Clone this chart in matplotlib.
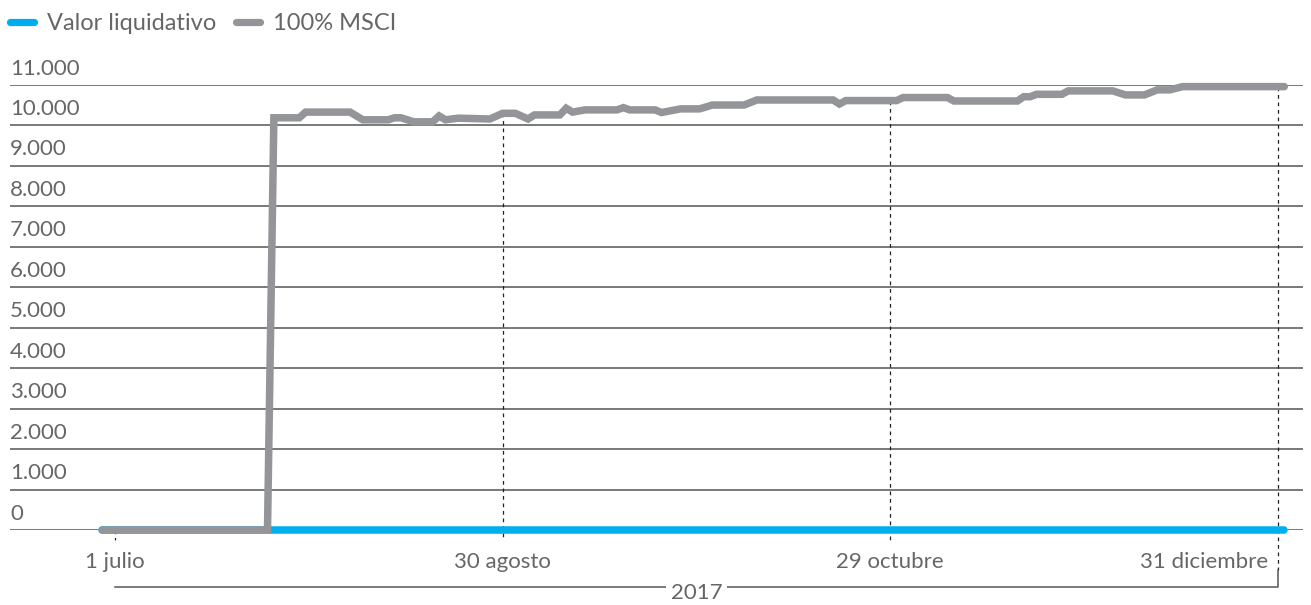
import numpy as np
import matplotlib
matplotlib.use("Agg")
import matplotlib.pyplot as plt
import matplotlib.dates as mdates
from matplotlib.lines import Line2D
import datetime as dt

# ---- data -------------------------------------------------------------
msci_dates = [
    "2017-06-29", "2017-07-25", "2017-07-26", "2017-07-30", "2017-07-31",
    "2017-08-07", "2017-08-09", "2017-08-13", "2017-08-14", "2017-08-15",
    "2017-08-17", "2017-08-20", "2017-08-21", "2017-08-22", "2017-08-24",
    "2017-08-29", "2017-08-31", "2017-09-02", "2017-09-04", "2017-09-05",
    "2017-09-09", "2017-09-10", "2017-09-11", "2017-09-13", "2017-09-18",
    "2017-09-19", "2017-09-20", "2017-09-24", "2017-09-25", "2017-09-28",
    "2017-10-01", "2017-10-03", "2017-10-08", "2017-10-10", "2017-10-22",
    "2017-10-23", "2017-10-24", "2017-11-01", "2017-11-02", "2017-11-09",
    "2017-11-10", "2017-11-20", "2017-11-21", "2017-11-22", "2017-11-23",
    "2017-11-27", "2017-11-28", "2017-12-05", "2017-12-07", "2017-12-10",
    "2017-12-12", "2017-12-14", "2017-12-16", "2018-01-01",
]
msci_values = [
    0, 0, 10190, 10190, 10330,
    10330, 10140, 10140, 10190, 10190,
    10090, 10090, 10235, 10140, 10180,
    10160, 10300, 10300, 10160, 10260,
    10260, 10425, 10330, 10385, 10385,
    10440, 10385, 10385, 10320, 10410,
    10410, 10505, 10505, 10630, 10630,
    10530, 10615, 10615, 10690, 10690,
    10605, 10605, 10710, 10710, 10770,
    10770, 10855, 10855, 10755, 10755,
    10880, 10880, 10960, 10960,
]

nav_dates = ["2017-06-29", "2018-01-01"]
nav_values = [0, 0]

tick_dates = ["2017-07-01", "2017-08-30", "2017-10-29", "2017-12-31"]
tick_labels = ["1 julio", "30 agosto", "29 octubre", "31 diciembre"]
year_label = "2017"

y_ticks = list(range(0, 12000, 1000))

series_names = ["Valor liquidativo", "100% MSCI"]

# ---- style --------------------------------------------------------------
BLUE = "#00aeef"
GREY = "#939598"
TEXT = "#666666"
GRID = "#555555"
FS = 16

plt.rcParams["font.family"] = ["Lato", "DejaVu Sans"]
plt.rcParams["font.weight"] = "normal"

W, H = 1311, 605
fig = plt.figure(figsize=(W / 100, H / 100), dpi=100)

def px_x(x):
    return x / W

def px_y(y):
    return 1 - y / H

ax = fig.add_axes([px_x(10), px_y(530), px_x(1303) - px_x(10), px_y(85) - px_y(530)])

def to_num(s):
    return mdates.date2num(dt.datetime.strptime(s, "%Y-%m-%d"))

msci_x = np.array([to_num(d) for d in msci_dates])
nav_x = np.array([to_num(d) for d in nav_dates])
first, last = to_num(tick_dates[0]), to_num(tick_dates[-1])
# the axis marks are spread evenly between the first and last date
tick_x = np.linspace(first, last, len(tick_labels))

ax.set_xlim(first - 16.52, first + 186.94)
ax.set_ylim(0, 11000)
per_px = 11000 / 445.0  # value units per pixel

ax.set_yticks(y_ticks)
ax.set_xticks([])
ax.tick_params(axis="y", length=0, labelleft=False)
ax.grid(axis="y", color=GRID, lw=1.1)
ax.set_axisbelow(True)
for sp in ax.spines.values():
    sp.set_visible(False)

# y labels sit above their gridline
for v in y_ticks:
    ax.annotate(f"{v:,}".replace(",", "."), xy=(0, v),
                xycoords=("axes fraction", "data"),
                xytext=(0, 7.5), textcoords="offset points",
                ha="left", va="baseline", fontsize=FS, color=TEXT)

# dashed markers from the benchmark line down past the axis
for i, tx in enumerate(tick_x):
    top = np.interp(tx, msci_x, msci_values)
    bottom = -40 * per_px if i == len(tick_x) - 1 else -10 * per_px
    ax.plot([tx, tx], [top, bottom], color="#222222", lw=0.9,
            ls=(0, (3, 3)), clip_on=False, zorder=2)

# series
ax.plot(nav_x, nav_values, color=BLUE, lw=5.4, solid_capstyle="round",
        clip_on=False, zorder=3)
ax.plot(msci_x, msci_values, color=GREY, lw=5.4, solid_capstyle="round",
        solid_joinstyle="miter", clip_on=False, zorder=4)

# x labels
for i, (tx, lab) in enumerate(zip(tick_x, tick_labels)):
    is_last = i == len(tick_x) - 1
    ax.annotate(lab, xy=(tx, 0), xycoords="data",
                xytext=(-7 if is_last else 0, -27), textcoords="offset points",
                ha="right" if is_last else "center", va="baseline",
                fontsize=FS, color=TEXT, annotation_clip=False)

# year bracket
y_br = -57 * per_px
ax.plot([tick_x[0], tick_x[-1], tick_x[-1]], [y_br, y_br, -40 * per_px],
        color=GRID, lw=1.1, clip_on=False, zorder=2)
mid = (tick_x[0] + tick_x[-1]) / 2
ax.text(mid, y_br - 6 * per_px, year_label, ha="center", va="center",
        fontsize=FS, color=TEXT,
        bbox=dict(facecolor="white", edgecolor="none", pad=3), zorder=3)

# legend
for x0, x1, tx, col, name in [(10, 34, 47, BLUE, series_names[0]),
                              (236, 260, 273, GREY, series_names[1])]:
    fig.add_artist(Line2D([px_x(x0), px_x(x1)], [px_y(22), px_y(22)],
                          color=col, lw=5.2, solid_capstyle="round"))
    fig.text(px_x(tx), px_y(23), name, ha="left", va="center", fontsize=17,
             color=TEXT)

fig.savefig("out.png", dpi=100)
